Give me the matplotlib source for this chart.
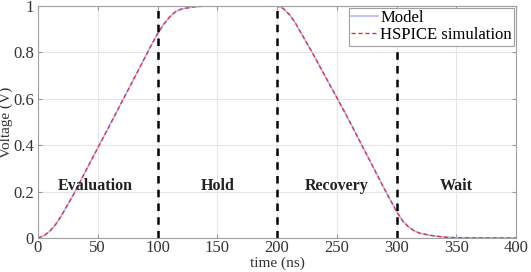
import matplotlib
matplotlib.use("Agg")
import matplotlib.pyplot as plt

plt.rcParams["font.family"] = ["Liberation Serif", "DejaVu Serif"]

# 读图得到的点 (ns, V)
t_pts = [0, 5, 10, 15, 20, 25, 30, 40, 50, 60, 70, 80, 90, 95, 100, 105, 110, 115, 120, 130, 140, 150,
         200, 205, 210, 215, 220, 230, 240, 250, 260, 270, 280, 290, 300, 305, 310, 315, 320, 330, 340, 350, 400]
v_pts = [0, 0.01, 0.03, 0.06, 0.10, 0.145, 0.19, 0.29, 0.388, 0.486, 0.585, 0.684, 0.783, 0.833, 0.88, 0.92, 0.952,
         0.975, 0.987, 0.996, 1.0, 1.0,
         1.0, 0.99, 0.965, 0.93, 0.885, 0.795, 0.70, 0.606, 0.51, 0.41, 0.31, 0.21, 0.115, 0.075, 0.048, 0.03,
         0.02, 0.01, 0.004, 0.001, 0.0]
phase_bounds = [100, 200, 300]
phase_names = ["Evaluation", "Hold", "Recovery", "Wait"]
phase_centers = [48, 150, 250, 350]

fig = plt.figure(figsize=(5.31, 2.72), dpi=100)
ax = fig.add_axes([38 / 531, 34 / 272, 478 / 531, 232 / 272])

ax.plot(t_pts, v_pts, color="#b4b8ff", lw=1.2, label="Model")
ax.plot(t_pts, v_pts, color="#e8323c", lw=1.0, ls="--", dashes=(3, 2), label="HSPICE simulation")
for b in phase_bounds:
    ax.axvline(b, color="black", lw=1.8, ls="--", dashes=(3, 2.5))
for name, c in zip(phase_names, phase_centers):
    ax.text(c, 0.225, name, ha="center", va="center", fontsize=11.5, fontweight="bold", color="#222222")

ax.set_xlim(0, 400)
ax.set_ylim(0, 1)
ax.set_xticks(range(0, 401, 50))
ax.set_yticks([0, 0.2, 0.4, 0.6, 0.8, 1])
ax.set_yticklabels(["0", "0.2", "0.4", "0.6", "0.8", "1"])
ax.grid(True, color="#e6e6e6", lw=0.8)
ax.tick_params(direction="in", length=3, labelsize=12, colors="#9a9a9a", labelcolor="#333333",
               top=True, right=True)
ax.tick_params(axis="x", pad=1.5)
ax.tick_params(axis="y", pad=3)
for s in ax.spines.values():
    s.set_color("#a0a0a0")
ax.set_xlabel("time (ns)", fontsize=11, labelpad=0, color="#333333")
ax.set_ylabel("Voltage (V)", fontsize=11, labelpad=0, color="#333333")

leg = ax.legend(loc="upper right", fontsize=12, handlelength=1.6, handletextpad=0.15,
                borderpad=0.15, labelspacing=0.05, borderaxespad=0.1, fancybox=False, framealpha=1)
leg.get_frame().set_edgecolor("#a0a0a0")
leg.get_frame().set_linewidth(0.8)

fig.savefig("out.png", dpi=100)
